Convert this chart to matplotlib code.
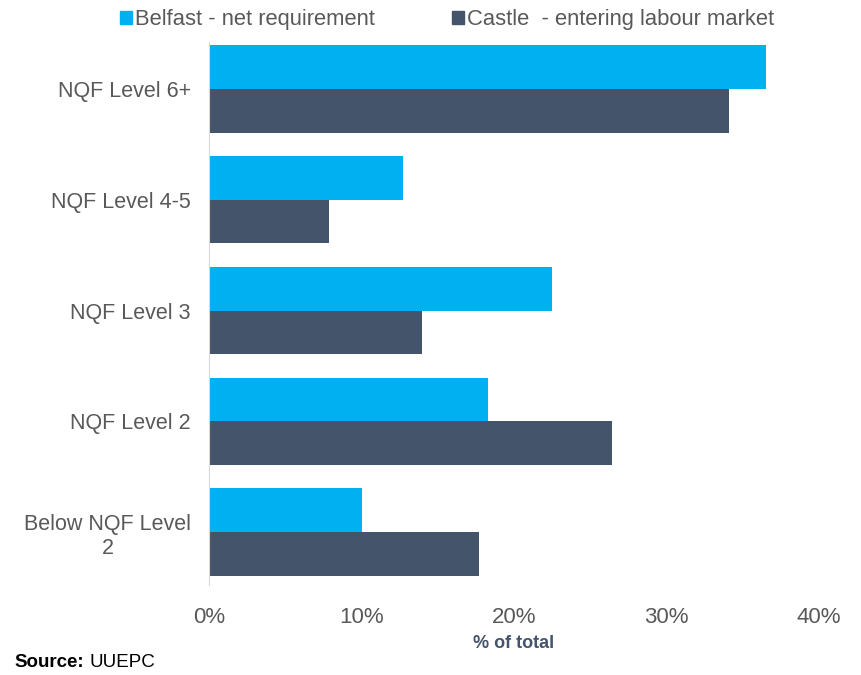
import numpy as np
import matplotlib
matplotlib.use("Agg")
from matplotlib import pyplot as plt
from matplotlib.patches import Patch

plt.rcParams['font.family'] = ['Liberation Sans', 'DejaVu Sans']

categories = ["NQF Level 6+", "NQF Level 4-5", "NQF Level 3", "NQF Level 2", "Below NQF Level\n2"]
belfast = [36.5, 12.7, 22.5, 18.3, 10.0]
castle = [34.1, 7.9, 14.0, 26.4, 17.7]
series_names = ["Belfast - net requirement", "Castle  - entering labour market"]
xticks = [0, 10, 20, 30, 40]

c_belfast = "#00B0F0"
c_castle = "#44546A"
grey = "#595959"

fig = plt.figure(figsize=(8.62, 6.75), dpi=100)
ax = fig.add_axes([0.2425, 0.129, 0.7075, 0.822])

y = np.arange(len(categories))
h = 0.396
ax.barh(y - h / 2, belfast, height=h, color=c_belfast, label=series_names[0])
ax.barh(y + h / 2, castle, height=h, color=c_castle, label=series_names[1])

ax.set_ylim(len(categories) - 0.5, -0.5)
ax.set_xlim(0, 40)
ax.set_yticks(y)
ax.set_yticklabels(categories, fontsize=15.5, color=grey, multialignment="center")
ax.set_xticks(xticks)
ax.set_xticklabels(["{}%".format(v) for v in xticks], fontsize=16, color=grey)
ax.tick_params(axis="both", length=0)
ax.tick_params(axis="y", pad=13)
ax.tick_params(axis="x", pad=14)

for s in ["top", "right", "bottom"]:
    ax.spines[s].set_visible(False)
ax.spines["left"].set_color("#D9D9D9")
ax.spines["left"].set_bounds(len(categories) - 0.53, -0.42)

ax.set_xlabel("% of total", fontsize=13, fontweight="bold", color=c_castle, labelpad=5)

handles = [Patch(color=c_belfast), Patch(color=c_castle)]
fig.legend(handles, series_names, loc="center", bbox_to_anchor=(0.5186, 0.971), ncol=2,
           frameon=False, fontsize=15.8, labelcolor=grey, handlelength=0.55, handleheight=0.55,
           handletextpad=0.15, columnspacing=3.5)

fig.text(0.017, 0.012, "Source:", fontsize=13.5, fontweight="bold", color="black")
fig.text(0.104, 0.012, "UUEPC", fontsize=13.5, color="black")

plt.savefig("out.png", dpi=100)
